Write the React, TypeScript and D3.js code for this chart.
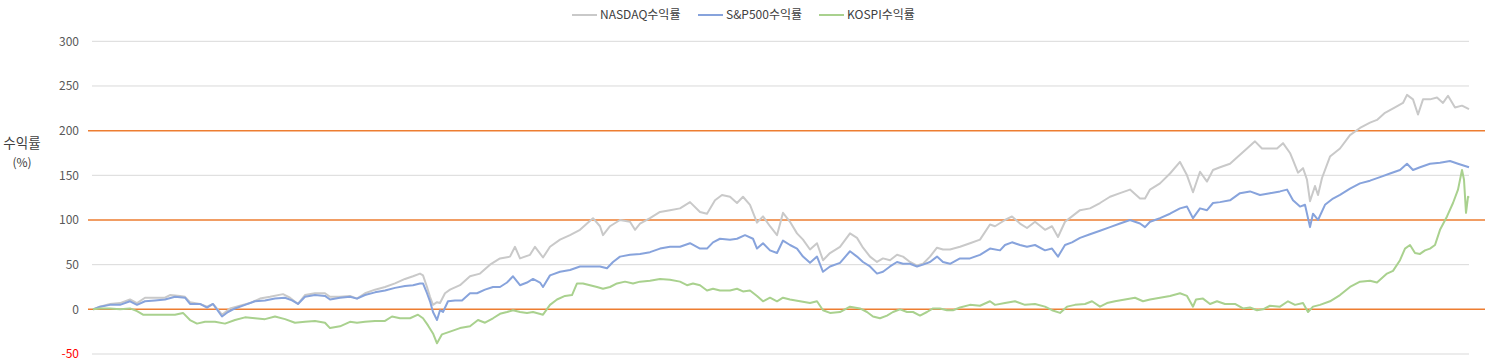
import React from "react";
import * as d3 from "d3";

// Series: [trading-session index, cumulative return %]
const seriesNames = ["NASDAQ수익률", "S&P500수익률", "KOSPI수익률"];
const seriesColors = ["#C9C9C9", "#87A3DC", "#A9D18E"];
const yTicks = [-50, 0, 50, 100, 150, 200, 250, 300];
const highlightTicks = [0, 100, 200];
const sessionCount = 1376;

const nasdaq: [number, number][] = [
  [0,0],[7,3],[17,6],[27,7],[37,11],[44,7],[52,13],[62,13],[72,13],[77,16],[87,15],[92,14],[97,8],[107,6],[114,3],[120,6],[129,-6],[137,1],[147,4],[157,7],[167,12],[177,14],[190,17],[197,13],[205,6],[212,16],[222,18],[232,18],[237,14],[247,14],[257,15],[264,12],[272,18],[282,22],[292,25],[302,29],[312,34],[320,37],[327,40],[330,38],[334,25],[337,14],[340,5],[344,8],[347,7],[352,18],[357,22],[367,27],[377,37],[387,40],[397,50],[407,57],[417,59],[422,70],[427,57],[437,61],[442,70],[450,58],[457,70],[467,78],[477,83],[487,89],[494,96],[500,102],[507,93],[510,83],[517,93],[527,100],[537,98],[542,89],[547,96],[557,102],[567,109],[577,111],[587,113],[597,120],[607,109],[614,107],[622,122],[629,128],[637,126],[644,119],[650,126],[657,117],[664,97],[670,104],[677,93],[684,83],[690,108],[697,98],[704,85],[710,78],[717,67],[724,74],[730,55],[737,63],[747,70],[757,85],[764,80],[770,69],[777,59],[784,53],[790,57],[797,55],[804,61],[810,59],[817,53],[824,49],[830,51],[837,59],[844,69],[850,67],[857,67],[867,70],[877,74],[887,78],[897,95],[902,93],[912,100],[919,104],[927,96],[934,91],[942,98],[952,89],[959,93],[965,81],[972,98],[979,104],[987,111],[997,113],[1007,119],[1017,126],[1027,130],[1037,134],[1047,124],[1052,124],[1057,134],[1067,141],[1077,152],[1087,165],[1094,150],[1100,131],[1107,154],[1114,143],[1120,156],[1127,159],[1137,163],[1147,173],[1154,180],[1162,188],[1169,180],[1175,180],[1184,180],[1190,186],[1197,175],[1200,167],[1205,153],[1210,158],[1214,145],[1217,121],[1222,138],[1225,128],[1229,147],[1237,171],[1247,180],[1257,195],[1267,203],[1277,209],[1284,212],[1292,220],[1302,226],[1310,231],[1314,240],[1320,235],[1325,218],[1330,235],[1337,235],[1344,237],[1350,231],[1355,239],[1362,226],[1369,228],[1376,224]
];

const sp500: [number, number][] = [
  [0,0],[7,3],[17,5],[27,5],[37,9],[44,5],[52,9],[62,10],[72,11],[82,14],[92,13],[97,6],[107,6],[114,2],[120,6],[129,-8],[135,-3],[142,1],[152,5],[162,9],[172,10],[182,12],[192,13],[199,10],[205,6],[212,14],[222,16],[232,15],[237,11],[247,13],[257,14],[264,12],[272,16],[282,19],[292,21],[302,24],[312,26],[320,27],[327,29],[330,29],[334,18],[337,9],[340,-3],[344,-12],[347,-1],[350,-3],[355,9],[362,10],[369,10],[377,18],[384,18],[392,22],[400,25],[407,25],[414,30],[420,37],[427,27],[434,30],[440,34],[447,30],[450,25],[457,38],[467,42],[477,44],[487,48],[497,48],[507,48],[514,46],[520,53],[527,59],[537,61],[547,62],[557,64],[567,68],[577,70],[587,70],[597,74],[607,68],[614,68],[620,75],[627,79],[637,78],[644,79],[652,83],[660,79],[664,68],[670,74],[677,66],[684,63],[690,77],[697,72],[704,68],[710,59],[717,52],[724,59],[730,42],[737,48],[747,52],[757,65],[764,59],[770,53],[777,48],[784,40],[790,42],[797,48],[804,53],[810,51],[817,51],[824,48],[830,50],[837,53],[844,59],[850,53],[857,51],[867,57],[877,57],[887,61],[897,68],[907,66],[912,72],[919,75],[927,72],[934,70],[942,72],[952,66],[959,68],[965,59],[972,72],[979,75],[987,80],[997,84],[1007,88],[1017,92],[1027,96],[1037,100],[1047,96],[1052,92],[1057,98],[1067,102],[1077,107],[1087,113],[1094,115],[1100,102],[1107,113],[1114,111],[1120,119],[1127,120],[1137,122],[1147,130],[1157,132],[1167,128],[1177,130],[1187,132],[1194,134],[1200,122],[1207,115],[1212,117],[1217,92],[1220,107],[1225,100],[1232,117],[1240,124],[1247,128],[1257,135],[1267,141],[1277,144],[1287,148],[1297,152],[1307,156],[1314,163],[1320,156],[1327,159],[1337,163],[1347,164],[1357,166],[1365,163],[1376,159]
];

const kospi: [number, number][] = [
  [0,0],[7,1],[17,1],[27,0],[37,1],[44,-2],[50,-6],[62,-6],[72,-6],[82,-6],[90,-4],[97,-12],[104,-16],[112,-14],[122,-14],[132,-16],[142,-12],[152,-9],[162,-10],[172,-11],[182,-8],[192,-11],[202,-15],[212,-14],[222,-13],[232,-15],[237,-21],[247,-19],[257,-14],[264,-15],[272,-14],[282,-13],[292,-13],[299,-8],[307,-10],[317,-10],[325,-6],[330,-10],[335,-18],[340,-27],[344,-38],[349,-28],[357,-25],[367,-21],[377,-19],[385,-12],[392,-15],[400,-10],[407,-5],[414,-3],[420,-1],[427,-3],[434,-4],[440,-3],[450,-6],[457,5],[464,11],[472,15],[479,16],[484,29],[490,29],[497,27],[504,25],[510,23],[517,25],[524,29],[532,31],[540,29],[547,31],[557,32],[567,34],[577,33],[587,31],[594,27],[600,29],[607,27],[614,21],[620,23],[627,21],[637,21],[644,23],[650,20],[657,21],[664,15],[670,9],[677,13],[684,9],[690,13],[697,11],[707,9],[717,7],[724,9],[730,-1],[737,-4],[747,-3],[757,3],[767,1],[774,-3],[780,-8],[787,-10],[794,-7],[800,-3],[807,0],[814,-3],[820,-3],[827,-7],[834,-3],[840,1],[847,1],[854,-1],[860,-1],[867,2],[877,5],[887,4],[897,9],[902,5],[912,7],[922,9],[932,5],[942,6],[952,3],[959,-1],[967,-4],[974,3],[982,5],[992,6],[999,9],[1007,3],[1014,7],[1022,9],[1032,11],[1042,13],[1050,9],[1057,11],[1067,13],[1077,15],[1087,18],[1094,15],[1100,3],[1103,11],[1110,12],[1117,6],[1124,9],[1132,6],[1142,6],[1150,1],[1157,2],[1164,-1],[1170,0],[1177,4],[1187,3],[1195,9],[1202,5],[1210,7],[1215,-3],[1220,3],[1227,5],[1237,9],[1247,16],[1257,25],[1267,31],[1277,32],[1284,30],[1294,40],[1300,43],[1307,55],[1312,68],[1317,72],[1322,63],[1327,62],[1332,66],[1337,68],[1342,72],[1347,89],[1354,104],[1360,119],[1365,134],[1369,156],[1371,145],[1373,108],[1375,126],[1376,125]
];

const allSeries = [nasdaq, sp500, kospi];

const W = 1485;
const H = 363;
const FONT = "'Noto Sans CJK KR', 'Noto Sans', sans-serif";

export default function App() {
  const x = d3.scaleLinear().domain([0, sessionCount]).range([93, 1469]);
  const y = d3.scaleLinear().domain([-50, 300]).range([354, 41.3]);
  const line = d3
    .line<[number, number]>()
    .x((d) => x(d[0]))
    .y((d) => y(d[1]));

  const legendX = [572, 698, 819];

  return (
    <svg
      width={W}
      height={H}
      style={{ position: "absolute", left: 0, top: 0, background: "#fff" }}
      fontFamily={FONT}
    >
      {/* grey gridlines */}
      {yTicks
        .filter((t) => !highlightTicks.includes(t))
        .map((t) => (
          <line key={"g" + t} x1={92} x2={1469} y1={y(t)} y2={y(t)} stroke="#D9D9D9" strokeWidth={1} />
        ))}
      {/* orange reference lines */}
      {highlightTicks.map((t) => (
        <line key={"o" + t} x1={88} x2={W} y1={y(t)} y2={y(t)} stroke="#ED7D31" strokeWidth={1.5} />
      ))}
      {/* tick labels */}
      {yTicks.map((t) => (
        <text
          key={"t" + t}
          x={79}
          y={y(t)}
          dy="0.35em"
          textAnchor="end"
          fontSize={12}
          fill={t < 0 ? "#FF0000" : "#595959"}
        >
          {t}
        </text>
      ))}
      {/* axis title */}
      <text x={22} y={143} dy="0.35em" textAnchor="middle" fontSize={13.5} fill="#404040">
        수익률
      </text>
      <text x={22} y={163} dy="0.35em" textAnchor="middle" fontSize={12} fill="#404040">
        (%)
      </text>
      {/* series */}
      {allSeries.map((s, i) => (
        <path
          key={"s" + i}
          d={line(s) || ""}
          fill="none"
          stroke={seriesColors[i]}
          strokeWidth={2}
          strokeLinejoin="round"
        />
      ))}
      {/* legend */}
      {seriesNames.map((n, i) => (
        <g key={"l" + i}>
          <line x1={legendX[i]} x2={legendX[i] + 25} y1={15} y2={15} stroke={seriesColors[i]} strokeWidth={2} />
          <text x={legendX[i] + 28} y={15} dy="0.35em" fontSize={12} fill="#404040">
            {n}
          </text>
        </g>
      ))}
    </svg>
  );
}
